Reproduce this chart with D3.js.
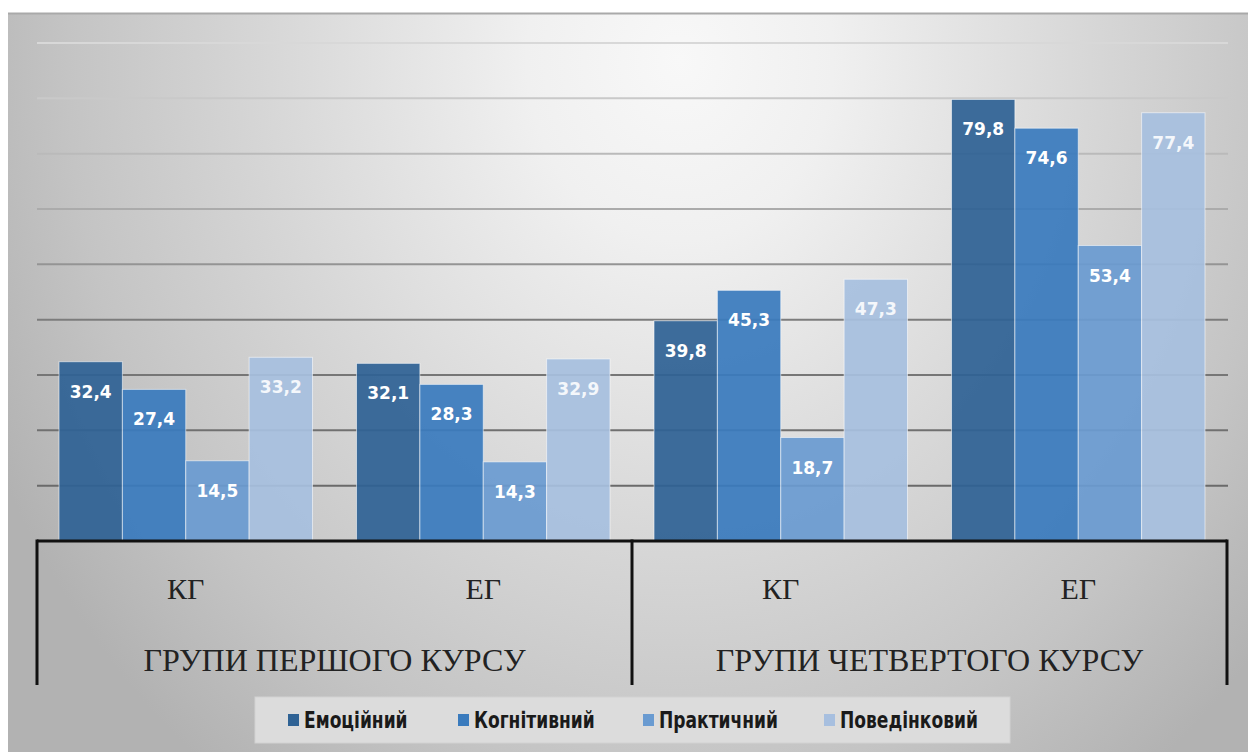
<!DOCTYPE html>
<html>
<head>
<meta charset="utf-8">
<script src="https://cdn.jsdelivr.net/npm/d3@7"></script>
<style>
  html, body { margin: 0; padding: 0; background: #fff; }
  svg { display: block; }
</style>
</head>
<body>
<script>
// Categories and series
const groups = ["КГ1", "ЕГ1", "КГ4", "ЕГ4"];
const groupLabels = ["КГ", "ЕГ", "КГ", "ЕГ"];
const courses = ["ГРУПИ ПЕРШОГО КУРСУ", "ГРУПИ ЧЕТВЕРТОГО КУРСУ"];
const seriesNames = ["Емоційний", "Когнітивний", "Практичний", "Поведінковий"];
const emotional = [32.4, 32.1, 39.8, 79.8];
const cognitive = [27.4, 28.3, 45.3, 74.6];
const practical = [14.5, 14.3, 18.7, 53.4];
const behavioral = [33.2, 32.9, 47.3, 77.4];
const gridTicks = [10, 20, 30, 40, 50, 60, 70, 80, 90];

const seriesValues = [emotional, cognitive, practical, behavioral];
const colors = ["#2f6294", "#3a7bbd", "#6a9bd1", "#a7bfdf"];

const W = 1248, H = 752;
const svg = d3.select("body").append("svg").attr("width", W).attr("height", H);

const defs = svg.append("defs");
const grad = defs.append("radialGradient")
  .attr("id", "bg").attr("gradientUnits", "userSpaceOnUse")
  .attr("cx", 680).attr("cy", 60).attr("r", 900)
  .attr("gradientTransform", "translate(680,60) scale(0.85,1) translate(-680,-60)");
grad.append("stop").attr("offset", 0).attr("stop-color", "#f8f8f8");
grad.append("stop").attr("offset", 0.2).attr("stop-color", "#f0f0f0");
grad.append("stop").attr("offset", 0.55).attr("stop-color", "#d6d6d6");
grad.append("stop").attr("offset", 0.8).attr("stop-color", "#c4c4c4");
grad.append("stop").attr("offset", 1).attr("stop-color", "#b2b2b2");

// chart background panel
svg.append("rect").attr("x", 8).attr("y", 13).attr("width", W - 8).attr("height", H - 13)
  .attr("fill", "url(#bg)");
svg.append("line").attr("x1", 8).attr("x2", W).attr("y1", 13.5).attr("y2", 13.5)
  .attr("stroke", "#a9a9a9").attr("stroke-width", 2);

const x0 = d3.scaleBand().domain(groups).range([37, 1227]).paddingInner(0.148).paddingOuter(0.074);
const x1 = d3.scaleBand().domain(seriesNames).range([0, x0.bandwidth()]).padding(0);
const y = d3.scaleLinear().domain([0, 90]).range([541, 43]);

// horizontal gridlines, fading toward the lighter top of the panel
const gridColor = d3.scaleLinear().domain([90, 60, 40, 10]).range(["#d8d8d8", "#ababab", "#7c7c7c", "#6a6a6a"]);
svg.append("g").selectAll("line").data(gridTicks).join("line")
  .attr("x1", 37).attr("x2", 1228)
  .attr("y1", d => y(d)).attr("y2", d => y(d))
  .attr("stroke", d => gridColor(d)).attr("stroke-width", 2);

// bars
const gBars = svg.append("g").selectAll("g").data(groups).join("g")
  .attr("transform", d => `translate(${x0(d)},0)`);

gBars.selectAll("rect")
  .data((g, gi) => seriesNames.map((s, si) => ({ s, si, v: seriesValues[si][gi] })))
  .join("rect")
  .attr("x", d => x1(d.s))
  .attr("y", d => y(d.v))
  .attr("width", x1.bandwidth())
  .attr("height", d => y(0) - y(d.v))
  .attr("fill", d => colors[d.si])
  .attr("fill-opacity", 0.93)
  .attr("stroke", "rgba(255,255,255,0.55)")
  .attr("stroke-width", 1);

gBars.selectAll("text")
  .data((g, gi) => seriesNames.map((s, si) => ({ s, si, v: seriesValues[si][gi] })))
  .join("text")
  .attr("x", d => x1(d.s) + x1.bandwidth() / 2)
  .attr("y", d => y(d.v) + 36)
  .attr("text-anchor", "middle")
  .attr("font-family", "DejaVu Sans, sans-serif")
  .attr("font-weight", "bold")
  .attr("font-size", 17)
  .attr("fill", d => d.si === 3 ? "#f4f7fb" : "#ffffff")
  .text(d => d3.format(".1f")(d.v).replace(".", ","));

// category axis bracket
const axis = svg.append("g").attr("stroke", "#111").attr("stroke-width", 3).attr("fill", "none");
const xLeft = x0.range()[0], xRight = x0.range()[1];
const xMid = (x0(groups[1]) + x0.bandwidth() + x0(groups[2])) / 2;
axis.append("line").attr("x1", xLeft).attr("x2", xRight).attr("y1", y(0)).attr("y2", y(0));
[xLeft, xMid, xRight].forEach(xx => {
  axis.append("line").attr("x1", xx).attr("x2", xx).attr("y1", y(0) - 1.5).attr("y2", 685);
});

// group labels
svg.append("g").selectAll("text").data(groups).join("text")
  .attr("x", d => x0(d) + x0.bandwidth() / 2)
  .attr("y", 599)
  .attr("text-anchor", "middle")
  .attr("font-family", "Liberation Serif, serif")
  .attr("font-size", 30)
  .attr("fill", "#222")
  .text((d, i) => groupLabels[i]);

svg.append("g").selectAll("text").data(courses).join("text")
  .attr("x", (d, i) => i === 0 ? (xLeft + xMid) / 2 : (xMid + xRight) / 2)
  .attr("y", 671)
  .attr("text-anchor", "middle")
  .attr("font-family", "Liberation Serif, serif")
  .attr("font-size", 32)
  .attr("fill", "#222")
  .text(d => d);

// legend
const legend = svg.append("g");
legend.append("rect").attr("x", 255).attr("y", 697).attr("width", 755).attr("height", 46)
  .attr("fill", "#dcdcdc").attr("stroke", "#d2d2d2").attr("stroke-width", 1);
const legendX = [288, 458, 643, 824];
const items = legend.selectAll("g").data(seriesNames).join("g")
  .attr("transform", (d, i) => `translate(${legendX[i]},720)`);
items.append("rect").attr("x", 0).attr("y", -6).attr("width", 11).attr("height", 12)
  .attr("fill", (d, i) => colors[i]);
items.append("text")
  .attr("transform", "translate(16,8) scale(1,1.2)")
  .attr("font-family", "DejaVu Sans Condensed, DejaVu Sans, sans-serif")
  .attr("font-weight", "bold")
  .attr("font-size", 19)
  .attr("fill", "#1a1a1a")
  .text(d => d);
</script>
</body>
</html>
